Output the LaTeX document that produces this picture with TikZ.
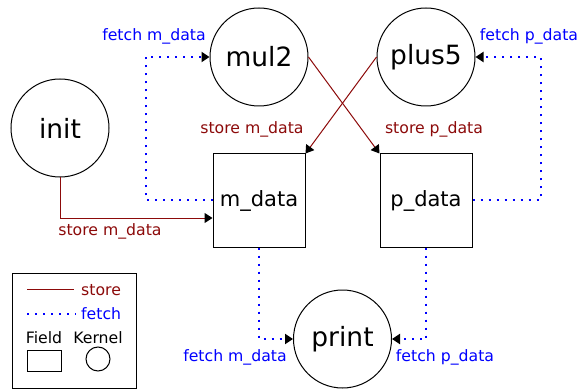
\documentclass[tikz,border=0pt]{standalone}
\usepackage{fontspec}
\setmainfont{DejaVu Sans}
\usetikzlibrary{arrows.meta}
\definecolor{storered}{RGB}{140,10,10}
\definecolor{fetchblue}{RGB}{0,0,255}
\tikzset{
  kernel/.style={draw, circle, line width=1pt, minimum size=98pt, inner sep=0pt, font=\fontsize{26.5}{30}\selectfont},
  field/.style={draw, rectangle, line width=1pt, minimum width=92pt, minimum height=93pt, inner sep=0pt, font=\fontsize{21}{25}\selectfont},
  tip/.style={-{Triangle[length=8pt,width=10pt,color=black]}},
  store/.style={draw=storered, line width=1pt},
  fetch/.style={draw=fetchblue, line width=2pt, dash pattern=on 2pt off 6pt},
  lab/.style={font=\fontsize{15.7}{18}\selectfont, anchor=base, inner sep=0pt},
  storelab/.style={lab, text=storered},
  fetchlab/.style={lab, text=fetchblue},
}
\begin{document}
\begin{tikzpicture}[x=1pt,y=-1pt]
\useasboundingbox (0,0) rectangle (578,390);
% kernels
\node[kernel] (init) at (60,128) {init};
\node[kernel] (mul2) at (259,57) {mul2};
\node[kernel] (plus5) at (426,57) {plus5};
\node[kernel] (print) at (342.5,339) {print};
% fields
\node[field] (mdata) at (259,200.5) {m\_data};
\node[field] (pdata) at (426,200.5) {p\_data};
% store connectors
\draw[store, tip] (init.south) |- ([yshift=-17.5pt]mdata.west);
\draw[store, tip] (mul2.east) -- (pdata.north west);
\draw[store, tip] (plus5.west) -- (mdata.north east);
% fetch connectors
\draw[fetch, tip] (mdata.west) -- ++(-67,0) |- (mul2.west);
\draw[fetch, tip] (pdata.east) -- ++(68,0) |- (plus5.east);
\draw[fetch, tip] (mdata.south) |- (print.west);
\draw[fetch, tip] (pdata.south) |- (print.east);
% labels
\node[fetchlab] (l1) at (154,41) {fetch m\_data};
\node[fetchlab] (l2) at (529,41) {fetch p\_data};
\node[storelab] (l3) at (110,235) {store m\_data};
\node[storelab] (l4) at (252,134) {store m\_data};
\node[storelab] (l5) at (434,134) {store p\_data};
\node[fetchlab] (l6) at (235,361) {fetch m\_data};
\node[fetchlab] (l7) at (445,361) {fetch p\_data};
% legend
\node[draw, line width=1pt, minimum width=124pt, minimum height=115pt, inner sep=0pt] (legend) at (74,330.5) {};
\coordinate (s1) at (27,289);
\coordinate (s2) at (74,289);
\draw[store] (s1) -- (s2);
\node[storelab, anchor=base west] (ls) at (81,295) {store};
\coordinate (f1) at (27,314);
\coordinate (f2) at (76,314);
\draw[fetch] (f1) -- (f2);
\node[fetchlab, anchor=base west] (lf) at (81,319) {fetch};
\node[lab] (lfield) at (44,343) {Field};
\node[lab] (lkernel) at (98,343) {Kernel};
\node[draw, line width=1pt, minimum width=34pt, minimum height=21pt, inner sep=0pt] (fieldsym) at (44,360.5) {};
\node[draw, circle, line width=1pt, minimum size=24pt, inner sep=0pt] (kernelsym) at (98,359) {};
\end{tikzpicture}
\end{document}
